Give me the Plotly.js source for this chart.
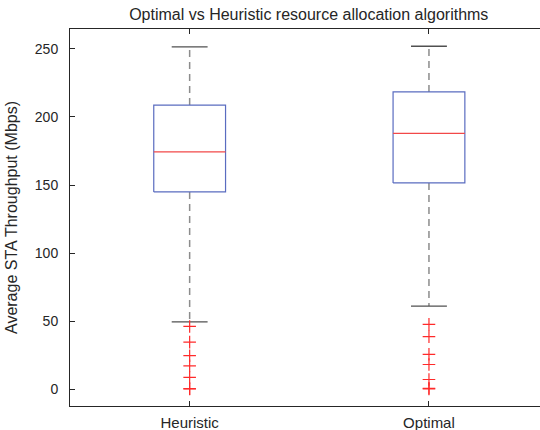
<!DOCTYPE html>
<html>
<head>
<meta charset="utf-8">
<script src="https://cdn.plot.ly/plotly-3.0.1.min.js"></script>
<style>
  html, body { margin: 0; padding: 0; background: #fff; overflow: hidden; }
  #chart { width: 540px; height: 430px; }
</style>
</head>
<body>
<div id="chart"></div>
<script>
// Throughput statistics per allocation algorithm (Mbps)
const categories = ['Heuristic', 'Optimal'];
const positions = [1, 2];
const q1 = [144.9, 151.5];
const medians = [174.3, 188.0];
const q3 = [208.8, 218.4];
const lowerWhisker = [49.3, 61.0];
const upperWhisker = [251.5, 252.0];
const outliersHeuristic = [46, 34.5, 24.5, 17, 8.5, 0.3, 0];
const outliersOptimal = [47.5, 38.5, 25.5, 18, 7, 0.5, 0];

const boxHalf = 0.15;
const capHalf = 0.075;

const traces = [];

positions.forEach((p, i) => {
  // dashed whiskers
  traces.push({
    type: 'scatter', mode: 'lines',
    x: [p, p, null, p, p],
    y: [q3[i], upperWhisker[i], null, q1[i], lowerWhisker[i]],
    line: { color: '#8c8c8c', width: 1.5, dash: '7px,5px' },
    hoverinfo: 'skip', showlegend: false
  });
  // whisker caps
  traces.push({
    type: 'scatter', mode: 'lines',
    x: [p - capHalf, p + capHalf, null, p - capHalf, p + capHalf],
    y: [upperWhisker[i], upperWhisker[i], null, lowerWhisker[i], lowerWhisker[i]],
    line: { color: '#505050', width: 1.3 },
    hoverinfo: 'skip', showlegend: false
  });
  // quartile box
  traces.push({
    type: 'scatter', mode: 'lines',
    x: [p - boxHalf, p + boxHalf, p + boxHalf, p - boxHalf, p - boxHalf],
    y: [q1[i], q1[i], q3[i], q3[i], q1[i]],
    line: { color: '#5a6cc0', width: 1.2 },
    hoverinfo: 'skip', showlegend: false
  });
  // median line
  traces.push({
    type: 'scatter', mode: 'lines',
    x: [p - boxHalf, p + boxHalf],
    y: [medians[i], medians[i]],
    line: { color: '#f24848', width: 1.3 },
    hoverinfo: 'skip', showlegend: false
  });
});

// outliers
[outliersHeuristic, outliersOptimal].forEach((vals, i) => {
  traces.push({
    type: 'scatter', mode: 'markers',
    x: vals.map(() => positions[i]),
    y: vals,
    marker: { symbol: 'cross-thin-open', size: 9, color: '#ff2a2a', line: { color: '#ff2a2a', width: 1.2 } },
    hoverinfo: 'skip', showlegend: false
  });
});

const layout = {
  width: 540,
  height: 430,
  margin: { l: 70, r: 0, t: 29, b: 24 },
  paper_bgcolor: '#ffffff',
  plot_bgcolor: '#ffffff',
  font: { family: 'Liberation Sans, Arial, sans-serif', color: '#262626', size: 14 },
  title: {
    text: 'Optimal vs Heuristic resource allocation algorithms',
    font: { size: 16, color: '#262626' },
    x: 0.508, xref: 'paper', xanchor: 'center',
    y: 1, yref: 'container', yanchor: 'top', pad: { t: 9 }
  },
  xaxis: {
    range: [0.5, 2.464],
    tickvals: positions,
    ticktext: categories,
    ticks: 'inside', ticklen: 5, tickcolor: '#262626', tickwidth: 1,
    showline: true, linecolor: '#262626', linewidth: 1,
    mirror: 'ticks',
    showgrid: false, zeroline: false,
    ticklabelstandoff: 3,
    tickfont: { size: 15 }
  },
  yaxis: {
    range: [-12.5, 264.7],
    tickvals: [0, 50, 100, 150, 200, 250],
    ticks: 'inside', ticklen: 5, tickcolor: '#262626', tickwidth: 1,
    showline: true, linecolor: '#262626', linewidth: 1,
    mirror: false,
    showgrid: false, zeroline: false,
    ticklabelstandoff: 8,
    tickfont: { size: 14 },
    title: { text: 'Average STA Throughput (Mbps)', font: { size: 16 }, standoff: 13 }
  }
};

Plotly.newPlot('chart', traces, layout, { displayModeBar: false, staticPlot: true });
</script>
</body>
</html>
